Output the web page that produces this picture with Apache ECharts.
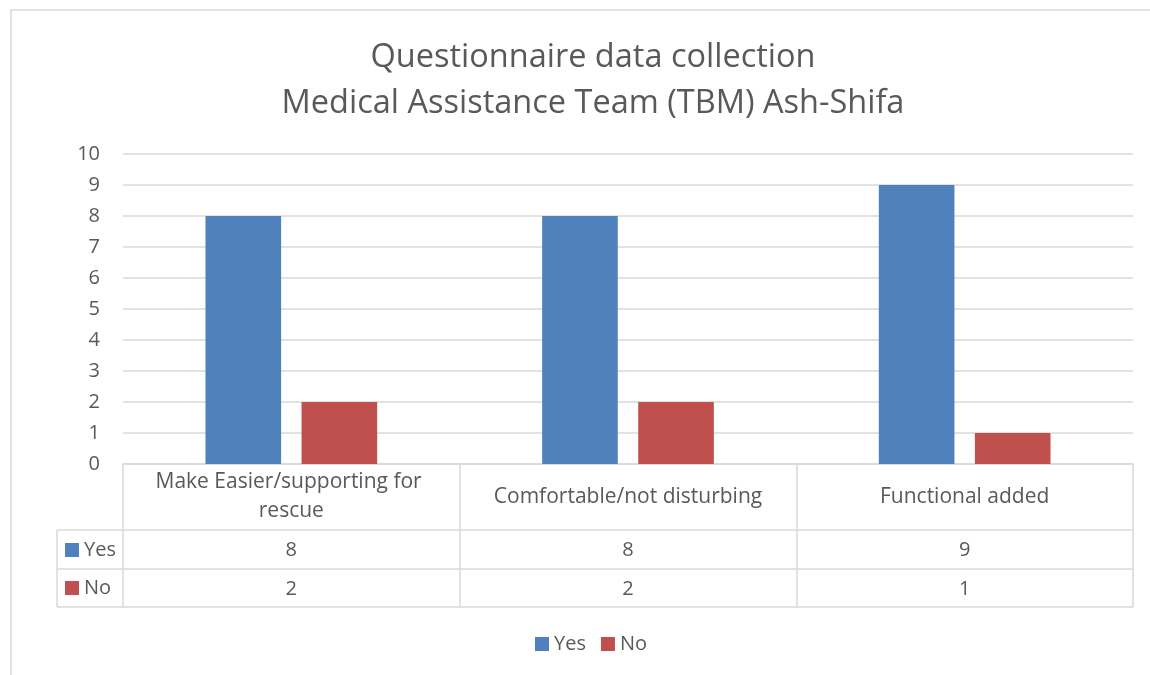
<!DOCTYPE html>
<html>
<head>
<meta charset="utf-8">
<script src="https://cdn.jsdelivr.net/npm/echarts@6/dist/echarts.min.js"></script>
<style>
  html, body { margin: 0; padding: 0; background: #fff; }
  #main { width: 1150px; height: 675px; }
</style>
</head>
<body>
<div id="main"></div>
<script>
// data
var categories = ["Make Easier/supporting for rescue", "Comfortable/not disturbing", "Functional added"];
var seriesNames = ["Yes", "No"];
var yesValues = [8, 8, 9];
var noValues = [2, 2, 1];
var titleLines = ["Questionnaire data collection", "Medical Assistance Team (TBM) Ash-Shifa"];

var textColor = "#595959";
var lineColor = "#d9d9d9";
var fontFamily = "'Open Sans', sans-serif";

var myChart = echarts.init(document.getElementById("main"));

// x axes used as rows of the data table under the plot
function tableRow(offset, values) {
    return {
        type: "category",
        data: categories,
        position: "bottom",
        offset: offset,
        axisLine: { show: true, lineStyle: { color: lineColor, width: 1.5 } },
        axisTick: { show: false },
        axisLabel: {
            show: values !== null,
            interval: 0,
            margin: 20,
            verticalAlign: "middle",
            color: textColor,
            fontSize: 20,
            fontFamily: fontFamily,
            formatter: function (v, i) { return values ? String(values[i]) : ""; }
        }
    };
}

var option = {
    animation: false,
    backgroundColor: "#fff",
    title: {
        text: titleLines.join("\n"),
        left: 588,
        textAlign: "center",
        top: 30,
        textStyle: {
            color: textColor,
            fontSize: 32.5,
            fontWeight: "normal",
            lineHeight: 46,
            fontFamily: fontFamily
        }
    },
    legend: [
        {
            data: seriesNames,
            left: 535,
            top: 634,
            padding: 0,
            itemWidth: 14,
            itemHeight: 14,
            itemGap: 15,
            icon: "rect",
            textStyle: { color: textColor, fontSize: 20, lineHeight: 20, fontFamily: fontFamily }
        },
        {
            data: seriesNames,
            orient: "vertical",
            left: 65,
            top: 540,
            padding: 0,
            itemWidth: 14,
            itemHeight: 14,
            itemGap: 18,
            icon: "rect",
            selectedMode: false,
            textStyle: { color: textColor, fontSize: 20, lineHeight: 20, fontFamily: fontFamily }
        }
    ],
    grid: { left: 123, right: 17, top: 154, bottom: 211 },
    xAxis: [
        {
            type: "category",
            data: categories,
            axisLine: { lineStyle: { color: lineColor, width: 1.5 } },
            axisTick: { show: true, length: 143, interval: 0, lineStyle: { color: lineColor, width: 1.5 } },
            axisLabel: {
                interval: 0,
                margin: 33,
                verticalAlign: "middle",
                color: textColor,
                fontSize: 21,
                lineHeight: 29,
                width: 300,
                overflow: "break",
                fontFamily: fontFamily
            }
        },
        tableRow(66, yesValues),
        tableRow(105, noValues),
        tableRow(143, null)
    ],
    yAxis: {
        type: "value",
        min: 0,
        max: 10,
        interval: 1,
        axisLine: { show: false },
        axisTick: { show: false },
        splitLine: { lineStyle: { color: lineColor, width: 1.5 } },
        axisLabel: { color: textColor, fontSize: 20, margin: 23, fontFamily: fontFamily }
    },
    series: [
        {
            name: seriesNames[0],
            type: "bar",
            data: yesValues,
            itemStyle: { color: "#4F81BD" },
            barGap: "27%",
            barCategoryGap: "49%"
        },
        {
            name: seriesNames[1],
            type: "bar",
            data: noValues,
            itemStyle: { color: "#C0504D" }
        }
    ],
    graphic: [
        // chart area border
        { type: "rect", shape: { x: 11, y: 10, width: 1200, height: 700 }, style: { fill: null, stroke: lineColor, lineWidth: 1.5 }, silent: true },
        // legend-key column of the data table
        { type: "line", shape: { x1: 57, y1: 530, x2: 123, y2: 530 }, style: { stroke: lineColor, lineWidth: 1.5 }, silent: true },
        { type: "line", shape: { x1: 57, y1: 569, x2: 123, y2: 569 }, style: { stroke: lineColor, lineWidth: 1.5 }, silent: true },
        { type: "line", shape: { x1: 57, y1: 607, x2: 123, y2: 607 }, style: { stroke: lineColor, lineWidth: 1.5 }, silent: true },
        { type: "line", shape: { x1: 57, y1: 530, x2: 57, y2: 607 }, style: { stroke: lineColor, lineWidth: 1.5 }, silent: true }
    ]
};

myChart.setOption(option);
</script>
</body>
</html>
